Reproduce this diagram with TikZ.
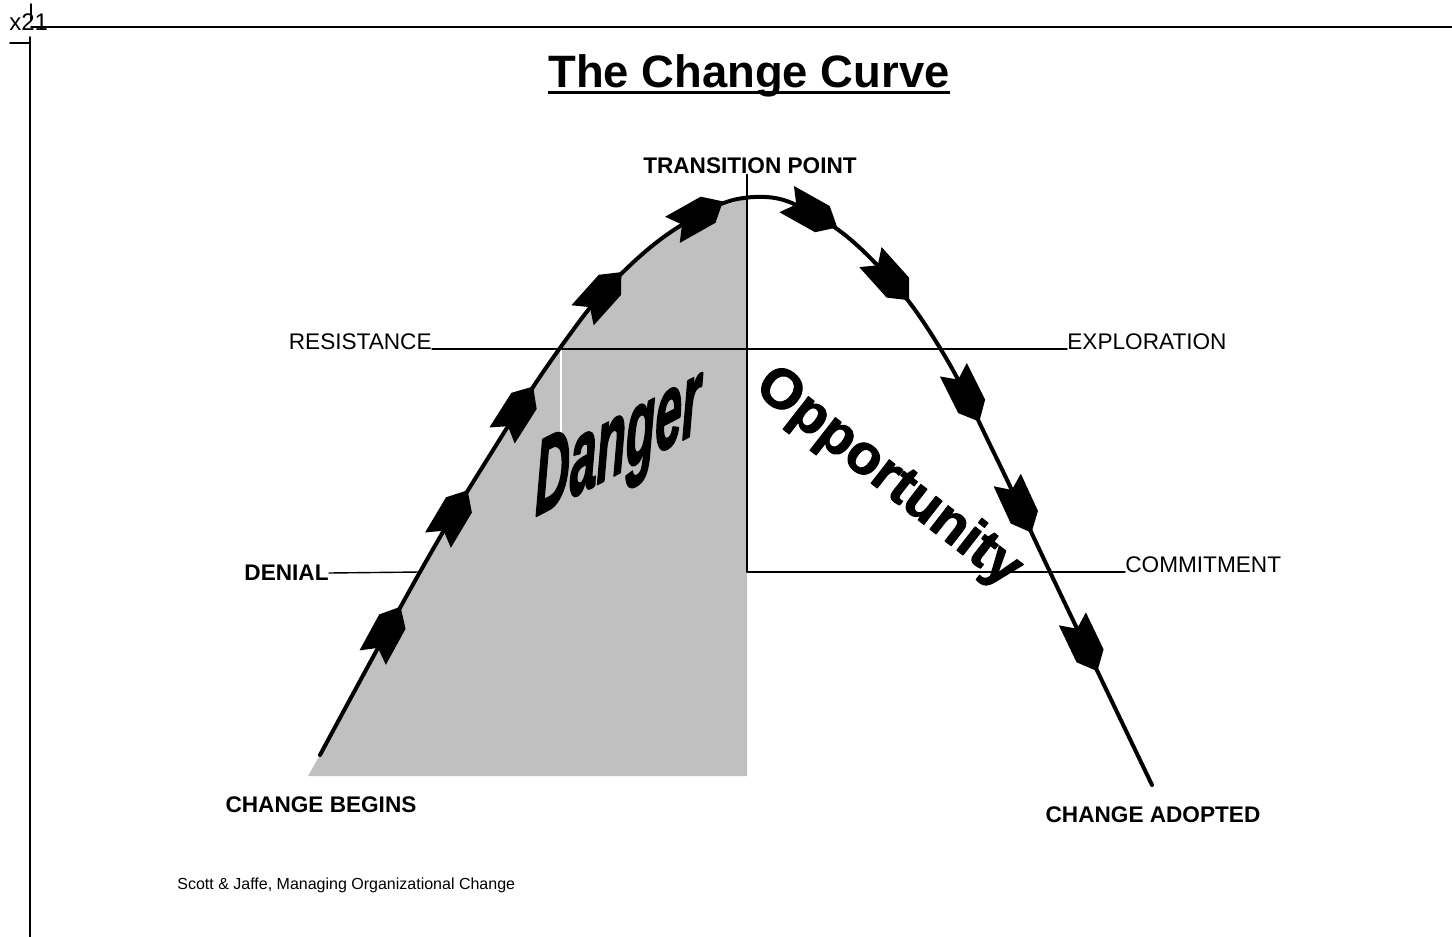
\documentclass[tikz,border=0pt]{standalone}
\usepackage{fontspec}
\setmainfont{Liberation Sans}
\newfontfamily\heavyfont[FakeBold=2]{Liberation Sans Bold}
\newfontfamily\heavyitfont[FakeBold=2.5]{Liberation Sans Bold Italic}
\usetikzlibrary{decorations.markings}
\definecolor{dangergray}{RGB}{192,192,192}
\newcommand{\stagearrow}{\fill[black] (30,0) -- (13,15) -- (-28,15) -- (-17,0) -- (-28,-15) -- (13,-15) -- cycle;}

\begin{document}
\begin{tikzpicture}[line cap=round,line join=round,x=0.5pt,y=-0.5pt,
  lbl/.style={inner sep=0pt,font=\fontsize{11.3}{13}\selectfont},
  lblb/.style={inner sep=0pt,font=\fontsize{11.3}{13}\selectfont\bfseries},
  leader/.style={line width=0.7pt},
  frame/.style={line width=0.8pt},
  curve/.style={line width=2pt,postaction={decorate,decoration={markings,
    mark=at position 0.095 with {\stagearrow},
    mark=at position 0.187 with {\stagearrow},
    mark=at position 0.271 with {\stagearrow},
    mark=at position 0.370 with {\stagearrow},
    mark=at position 0.455 with {\stagearrow},
    mark=at position 0.538 with {\stagearrow},
    mark=at position 0.608 with {\stagearrow},
    mark=at position 0.704 with {\stagearrow},
    mark=at position 0.788 with {\stagearrow},
    mark=at position 0.893 with {\stagearrow}}}}]
\useasboundingbox[fill=white] (0,0) rectangle (1452,937);
% page frame and reference mark
\draw [frame] (31,27) -- (1452,27);
\draw [frame] (30,37) -- (30,937);
\draw [frame] (10,43) -- (30,43);
\draw [frame] (31,4) -- (31,20);
\node [anchor=base west,inner sep=0pt,font=\fontsize{12}{14}\selectfont] (sheet) at (9,31) {x21};
% title
\node [anchor=base,inner sep=0pt,font=\fontsize{22.7}{26}\selectfont\bfseries] (title) at (749,87) {The Change Curve};
\draw [line width=1.4pt,line cap=butt] ([yshift=-2.6pt]title.base west) -- ([yshift=-2.6pt]title.base east);
% danger area
\begin{scope}
\clip (0,0) rectangle (747,776);
\fill [dangergray] (308,776) -- plot[smooth,tension=0.7] coordinates {(320,755) (420,572) (490,455) (560,348) (620,275) (690,220) (755,197)} -- (760,776) -- cycle;
\end{scope}
\draw [white,line width=1pt] (561,350) -- (561,440);
% labels
\node [lblb] (transition) at (750,166) {TRANSITION POINT};
\node [lbl,anchor=base east] (resistance) at (432,349) {RESISTANCE};
\node [lbl,anchor=base west] (exploration) at (1067,349) {EXPLORATION};
\node [lblb,anchor=east] (denial) at (329,573) {DENIAL};
\node [lbl,anchor=base west] (commitment) at (1125,572) {COMMITMENT};
\node [lblb] (begins) at (321,805) {CHANGE BEGINS};
\node [lblb] (adopted) at (1153,815) {CHANGE ADOPTED};
\node [anchor=west,inner sep=0pt,font=\fontsize{8}{9.5}\selectfont] (source) at (177,885) {Scott \& Jaffe, Managing Organizational Change};
\coordinate (split) at (747,572);
\coordinate (denialend) at (420,572);
% leader lines
\draw [line width=0.6pt] (transition.south -| split) -- (split);
\draw [leader] (resistance.base east) -- (exploration.base west);
\draw [leader] (denial.east) -- (denialend);
\draw [leader] (split) -- (commitment.base west);
% the curve
\draw [curve] plot[smooth,tension=0.7] coordinates {(320,755) (420,572) (490,455) (560,348) (620,275) (690,220) (755,197) (815,215) (880,268) (940,348) (995,455) (1050,572) (1152,785)};
% words
\node [font=\fontsize{24}{28}\selectfont\heavyitfont,cm={1,0.52,0,2.2,(0,0)}] (danger) at (618,448) {Danger};
\node [font=\fontsize{28}{32}\selectfont\heavyfont,rotate=-38] (opportunity) at (888,478) {Opportunity};
\end{tikzpicture}
\end{document}
